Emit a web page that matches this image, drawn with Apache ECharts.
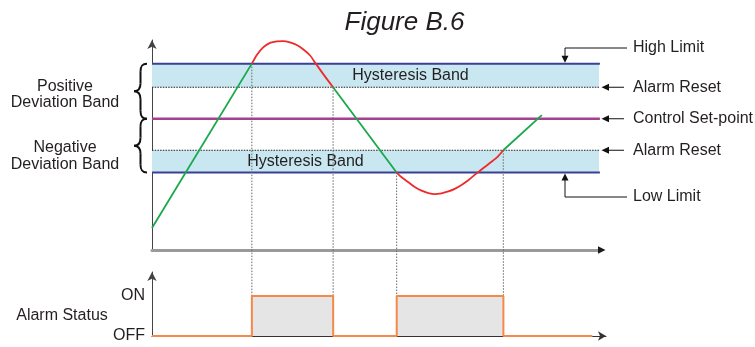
<!DOCTYPE html>
<html>
<head>
<meta charset="utf-8">
<script src="https://cdn.jsdelivr.net/npm/echarts@6/dist/echarts.min.js"></script>
<style>
  html, body { margin: 0; padding: 0; background: #ffffff; }
  #chart { width: 755px; height: 347px; }
</style>
</head>
<body>
<div id="chart"></div>
<script>
// ---- alarm levels (process units) ----
const highLimit = 71;
const upperReset = 62;
const setPoint = 50;
const lowerReset = 38;
const lowLimit = 29.5;
const bandEnd = 98.7;

// ---- process variable trace [time, value] ----
// green: inside limits, red: alarm active
const pvRise = [[0, 8.4], [22, 71]];
const pvHighAlarm = [[22, 71], [23.1, 74.3], [24.5, 77.2], [26, 78.9], [27.5, 79.5], [28.9, 79.6], [30.4, 79.1],
  [31.9, 78.1], [33.3, 76.5], [34.8, 74.2], [36.1, 71], [37.7, 67.1], [39.9, 62]];
const pvFall = [[39.9, 62], [53.9, 29.5]];
const pvLowAlarm = [[53.9, 29.5], [55.0, 27.7], [56.5, 25.8], [57.9, 24.0], [59.4, 22.6], [60.9, 21.7], [62.3, 21.3],
  [63.8, 21.6], [65.3, 22.3], [66.7, 23.3], [68.2, 24.8], [69.7, 26.6], [71.1, 28.6], [72.2, 30.1], [73.3, 31.6],
  [74.8, 33.6], [76.3, 35.8], [77.4, 38]];
const pvRecover = [[77.4, 38], [85.9, 51.4]];

// ---- alarm switching instants and the level crossed at each ----
const switchTimes = [22, 39.9, 53.9, 77.4];
const switchLevels = [highLimit, upperReset, lowLimit, lowerReset];

// ---- alarm relay state (0 = OFF, 1 = ON) ----
const alarmStatus = [[0, 0], [22, 0], [22, 1], [39.9, 1], [39.9, 0], [53.9, 0], [53.9, 1], [77.4, 1], [77.4, 0], [97, 0]];
const statusLabels = { 0: 'OFF', 1: 'ON' };

const FONT = "'Liberation Sans', Arial, Helvetica, sans-serif";
const FS = 16;
const INK = '#231f20';
const GREEN = '#19a84c';
const RED = '#ee2a2a';
const NAVY = '#3b3f96';
const PURPLE = '#a3418f';
const ORANGE = '#f5894a';

const chart = echarts.init(document.getElementById('chart'), null, { renderer: 'canvas' });

function levelLine(name, value, color, width, type) {
  return {
    name: name, type: 'line', xAxisIndex: 0, yAxisIndex: 0,
    data: [[0, value], [bandEnd, value]],
    showSymbol: false, silent: true, z: 3,
    lineStyle: { color: color, width: width, type: type || 'solid' }
  };
}
function pvLine(data, color) {
  return {
    type: 'line', xAxisIndex: 0, yAxisIndex: 0, data: data,
    showSymbol: false, silent: true, smooth: 0.25, z: 6,
    lineStyle: { color: color, width: 1.8 }
  };
}

const option = {
  animation: false,
  backgroundColor: '#ffffff',
  textStyle: { fontFamily: FONT },
  grid: [
    { left: 152, top: 40, width: 447, height: 210 },
    { left: 152, top: 272, width: 454, height: 64 }
  ],
  xAxis: [
    {
      gridIndex: 0, type: 'value', min: 0, max: 98.5,
      axisLine: { show: true, lineStyle: { color: '#9a9a9a', width: 3 } },
      axisTick: { show: false }, axisLabel: { show: false }, splitLine: { show: false }
    },
    {
      gridIndex: 1, type: 'value', min: 0, max: 100,
      axisLine: { show: true, symbol: ['none', 'arrow'], symbolSize: [7, 8], lineStyle: { color: '#333333', width: 1 } },
      axisTick: { show: false }, axisLabel: { show: false }, splitLine: { show: false }
    }
  ],
  yAxis: [
    {
      gridIndex: 0, type: 'value', min: 0, max: 80,
      axisLine: { show: true, symbol: ['none', 'arrow'], symbolSize: [7, 9], lineStyle: { color: '#444444', width: 1 } },
      axisTick: { show: false }, axisLabel: { show: false }, splitLine: { show: false }
    },
    {
      gridIndex: 1, type: 'value', min: 0, max: 1.6, interval: 1,
      axisLine: { show: true, symbol: ['none', 'arrow'], symbolSize: [7, 9], lineStyle: { color: '#444444', width: 1 } },
      axisTick: { show: false }, splitLine: { show: false },
      axisLabel: {
        show: true, showMaxLabel: false, margin: 7,
        color: INK, fontSize: FS, fontFamily: FONT, padding: [5, 0, 0, 0],
        formatter: function (v) { return statusLabels[v] || ''; }
      }
    }
  ],
  series: [
    {
      name: 'bands', type: 'line', xAxisIndex: 0, yAxisIndex: 0, data: [], silent: true,
      markArea: {
        silent: true,
        itemStyle: { color: '#c8e7f1' },
        label: { show: true, position: 'inside', color: INK, fontSize: FS, fontFamily: FONT },
        data: [
          [{ name: 'Hysteresis Band', coord: [0, upperReset], label: { offset: [35, 0] } }, { coord: [bandEnd, highLimit] }],
          [{ name: 'Hysteresis Band', coord: [0, lowLimit], label: { offset: [-70, 0] } }, { coord: [bandEnd, lowerReset] }]
        ]
      }
    },
    levelLine('High Limit', highLimit, NAVY, 2),
    levelLine('Low Limit', lowLimit, NAVY, 2),
    levelLine('Alarm Reset High', upperReset, '#222222', 1, [1.5, 1.2]),
    levelLine('Alarm Reset Low', lowerReset, '#222222', 1, [1.5, 1.2]),
    levelLine('Control Set-point', setPoint, PURPLE, 2.5),
    pvLine(pvRise, GREEN),
    pvLine(pvHighAlarm, RED),
    pvLine(pvFall, GREEN),
    pvLine(pvLowAlarm, RED),
    pvLine(pvRecover, GREEN),
    {
      name: 'Alarm Status', type: 'line', xAxisIndex: 1, yAxisIndex: 1,
      data: alarmStatus, showSymbol: false, silent: true, z: 5,
      lineStyle: { color: ORANGE, width: 2 },
      areaStyle: { color: '#e4e5e4', opacity: 1 }
    }
  ]
};

chart.setOption(option);

// ---- annotations placed through the chart's own scales ----
const topPx = (t, v) => chart.convertToPixel({ gridIndex: 0 }, [t, v]);
const botPx = (t, v) => chart.convertToPixel({ gridIndex: 1 }, [t, v]);

const graphics = [];
function txt(x, y, text, align, lineHeight) {
  return {
    type: 'text', x: x, y: y, silent: true, z: 10,
    style: {
      text: text, fill: INK, fontSize: FS, fontFamily: FONT, lineHeight: lineHeight || FS,
      textAlign: align || 'left', textVerticalAlign: 'middle'
    }
  };
}

// dotted drop lines from each crossing down to the ON level
switchTimes.forEach(function (t, i) {
  const a = topPx(t, switchLevels[i]);
  const b = botPx(t, 1);
  graphics.push({
    type: 'line', silent: true, z: 4,
    shape: { x1: a[0], y1: a[1], x2: b[0], y2: b[1] },
    style: { stroke: '#666666', lineWidth: 1, lineDash: [1.5, 1.5] }
  });
});

// arrowhead of the process axis
const axEnd = topPx(98.5, 0);
graphics.push({
  type: 'polygon', silent: true, z: 10,
  shape: { points: [[axEnd[0] - 1, axEnd[1] - 3.8], [axEnd[0] - 1, axEnd[1] + 3.8], [axEnd[0] + 6.5, axEnd[1]]] },
  style: { fill: '#1a1a1a' }
});

// title
graphics.push({
  type: 'text', x: 404.5, y: 22.5, silent: true, z: 10,
  style: {
    text: 'Figure B.6', fill: INK, fontSize: 26, fontStyle: 'italic', fontFamily: FONT,
    textAlign: 'center', textVerticalAlign: 'middle'
  }
});

// curly braces for the deviation bands
function brace(y0, y1) {
  const xe = 147, xs = 140.5, xt = 134, ym = (y0 + y1) / 2;
  const st = { stroke: '#111111', lineWidth: 2, fill: 'none' };
  const parts = [
    { x1: xe, y1: y0, cpx1: xs + 1, cpy1: y0, cpx2: xs, cpy2: y0 + 3, x2: xs, y2: y0 + 8 },
    { x1: xs, y1: ym - 8, cpx1: xs, cpy1: ym - 3, cpx2: xs - 2, cpy2: ym, x2: xt, y2: ym },
    { x1: xt, y1: ym, cpx1: xs - 2, cpy1: ym, cpx2: xs, cpy2: ym + 3, x2: xs, y2: ym + 8 },
    { x1: xs, y1: y1 - 8, cpx1: xs, cpy1: y1 - 3, cpx2: xs + 1, cpy2: y1, x2: xe, y2: y1 }
  ];
  parts.forEach(function (s) { graphics.push({ type: 'bezierCurve', silent: true, z: 10, shape: s, style: st }); });
  graphics.push({ type: 'line', silent: true, z: 10, shape: { x1: xs, y1: y0 + 8, x2: xs, y2: ym - 8 }, style: st });
  graphics.push({ type: 'line', silent: true, z: 10, shape: { x1: xs, y1: ym + 8, x2: xs, y2: y1 - 8 }, style: st });
}
const yHigh = topPx(0, highLimit)[1];
const ySet = topPx(0, setPoint)[1];
const yLow = topPx(0, lowLimit)[1];
const yRstHi = topPx(0, upperReset)[1];
const yRstLo = topPx(0, lowerReset)[1];
brace(yHigh, ySet);
brace(ySet, yLow);

graphics.push(txt(65, 94.5, 'Positive\nDeviation Band', 'center', 16.5));
graphics.push(txt(65, 156, 'Negative\nDeviation Band', 'center', 17.5));
graphics.push(txt(62, botPx(0, 0.5)[1], 'Alarm Status', 'center'));

// right-hand callouts
const lineSt = { stroke: '#111111', lineWidth: 1, fill: 'none' };
const headSt = { fill: '#111111' };
const xBend = 565, xLbl = 633, xArrowEnd = 625;
const yHighLbl = 48, yLowLbl = 197;
graphics.push({ type: 'polyline', silent: true, z: 10, shape: { points: [[xArrowEnd + 2, yHighLbl], [xBend, yHighLbl], [xBend, yHigh - 6]] }, style: lineSt });
graphics.push({ type: 'polygon', silent: true, z: 10, shape: { points: [[xBend - 3.5, yHigh - 8], [xBend + 3.5, yHigh - 8], [xBend, yHigh - 1]] }, style: headSt });
graphics.push({ type: 'polyline', silent: true, z: 10, shape: { points: [[xArrowEnd + 2, yLowLbl], [xBend, yLowLbl], [xBend, yLow + 6]] }, style: lineSt });
graphics.push({ type: 'polygon', silent: true, z: 10, shape: { points: [[xBend - 3.5, yLow + 8], [xBend + 3.5, yLow + 8], [xBend, yLow + 1]] }, style: headSt });
[yRstHi, ySet, yRstLo].forEach(function (y) {
  graphics.push({ type: 'line', silent: true, z: 10, shape: { x1: xArrowEnd - 1, y1: y, x2: 607, y2: y }, style: lineSt });
  graphics.push({ type: 'polygon', silent: true, z: 10, shape: { points: [[601.5, y], [609, y - 3.5], [609, y + 3.5]] }, style: headSt });
});
graphics.push(txt(xLbl, yHighLbl, 'High Limit'));
graphics.push(txt(xLbl, yRstHi, 'Alarm Reset'));
graphics.push(txt(xLbl, ySet, 'Control Set-point'));
graphics.push(txt(xLbl, yRstLo, 'Alarm Reset'));
graphics.push(txt(xLbl, yLowLbl, 'Low Limit'));

chart.setOption({ graphic: graphics });
</script>
</body>
</html>
